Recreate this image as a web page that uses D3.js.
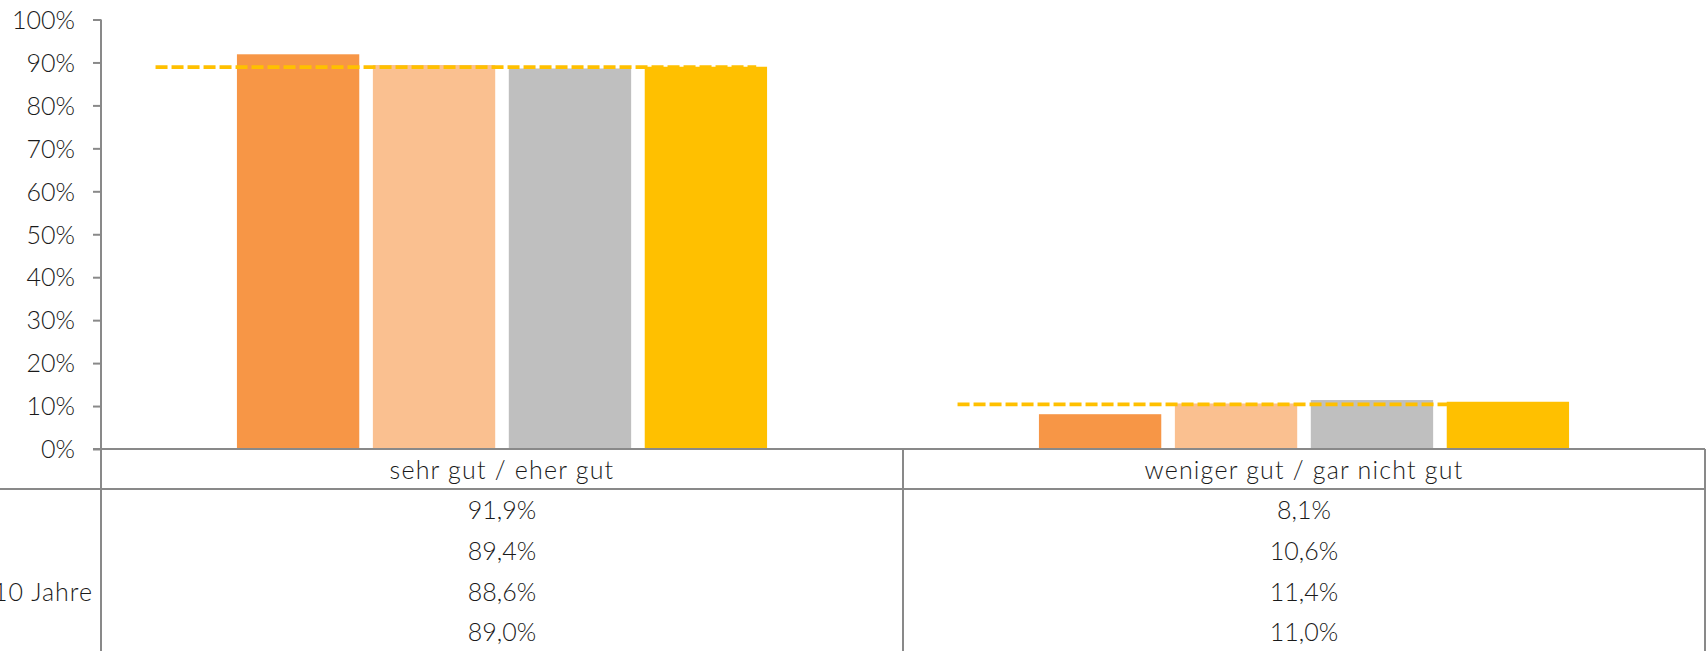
<!DOCTYPE html>
<html lang="de">
<head>
<meta charset="utf-8">
<title>Bewertung</title>
<script src="https://d3js.org/d3.v7.min.js"></script>
<style>
  body { margin: 0; background: #fff; overflow: hidden; }
  text { font-family: Lato, "Open Sans", sans-serif; font-weight: 300; fill: #1a1a1a; }
</style>
</head>
<body>
<div id="chart"></div>
<script>
// chart data
var categories = ["sehr gut / eher gut", "weniger gut / gar nicht gut"];
var seriesNames = ["S1", "S2", "S3", "S4"];
var rowLabels = ["", "", "Ø letzte 10 Jahre", ""];
var values = [
  [91.9, 8.1],
  [89.4, 10.6],
  [88.6, 11.4],
  [89.0, 11.0]
];
var refValues = [88.9, 10.4];   // dashed reference line per category
var yTicks = [0, 10, 20, 30, 40, 50, 60, 70, 80, 90, 100];
var colors = ["#f79646", "#fac090", "#bfbfbf", "#ffc000"];

var w = 1706, h = 651;
var plotLeft = 101, plotRight = 1705, plotTop = 19.5, base = 449;
var rowH = 40.8, headH = 40;
var fs = "25px";
var lineCol = "#898989";
var fmt = function(v) { return d3.format(".1f")(v).replace(".", ",") + "%"; };

var svg = d3.select("#chart").append("svg")
  .attr("width", w)
  .attr("height", h);

var y = d3.scaleLinear().domain([0, 100]).range([base, plotTop]);
var x0 = d3.scaleBand().domain(categories).range([plotLeft, plotRight]);
var x1 = d3.scaleBand().domain(seriesNames).range([0, x0.bandwidth()])
  .paddingInner(0.1).paddingOuter(1.0);

// bars
categories.forEach(function(c, ci) {
  svg.append("g")
    .selectAll("rect")
    .data(seriesNames)
    .enter().append("rect")
      .attr("x", function(s) { return x0(c) + x1(s); })
      .attr("y", function(s, si) { return y(values[si][ci]); })
      .attr("width", x1.bandwidth())
      .attr("height", function(s, si) { return base - y(values[si][ci]); })
      .attr("fill", function(s, si) { return colors[si]; });
});

// dashed reference lines
svg.selectAll(".ref")
  .data(categories)
  .enter().append("line")
    .attr("class", "ref")
    .attr("x1", function(c) { return x0(c) + x0.bandwidth() * 0.068; })
    .attr("x2", function(c) { return x0(c) + x0.bandwidth() * 0.817; })
    .attr("y1", function(c, i) { return y(refValues[i]); })
    .attr("y2", function(c, i) { return y(refValues[i]); })
    .attr("stroke", "#ffc000")
    .attr("stroke-width", 3.6)
    .attr("stroke-dasharray", "12,4");

// y axis
var yAxis = d3.axisLeft(y).tickValues(yTicks).tickSize(8)
  .tickFormat(function(d) { return d + "%"; });
var ga = svg.append("g")
  .attr("transform", "translate(" + plotLeft + ",0)")
  .call(yAxis);
ga.select(".domain").remove();
ga.selectAll(".tick line").attr("stroke", lineCol).attr("stroke-width", 2);
ga.selectAll(".tick text")
  .attr("x", -26)
  .attr("dy", "0.35em")
  .style("font-size", fs)
  .style("font-family", "Lato, sans-serif")
  .style("font-weight", 300)
  .attr("fill", "#1a1a1a");

// table grid
var tableTop = base + headH;
var g = svg.append("g").attr("stroke", lineCol).attr("stroke-width", 2);
g.append("line").attr("x1", plotLeft).attr("x2", plotLeft).attr("y1", plotTop).attr("y2", h);
g.append("line").attr("x1", plotLeft - 8).attr("x2", plotRight).attr("y1", base).attr("y2", base);
g.append("line").attr("x1", 0).attr("x2", plotRight).attr("y1", tableTop).attr("y2", tableTop);
categories.forEach(function(c) {
  var xr = x0(c) + x0.bandwidth();
  g.append("line").attr("x1", xr).attr("x2", xr).attr("y1", base).attr("y2", h);
});

// category header
svg.selectAll(".cat")
  .data(categories)
  .enter().append("text")
    .attr("class", "cat")
    .attr("x", function(c) { return x0(c) + x0.bandwidth() / 2; })
    .attr("y", base + 30)
    .attr("text-anchor", "middle")
    .style("font-size", fs)
    .style("letter-spacing", "1.2px")
    .text(function(c) { return c; });

// value rows
seriesNames.forEach(function(s, si) {
  var yy = tableTop + 30 + si * rowH;
  svg.append("text")
    .attr("x", plotLeft - 8)
    .attr("y", yy)
    .attr("text-anchor", "end")
    .style("font-size", fs)
    .style("letter-spacing", "1px")
    .text(rowLabels[si]);
  categories.forEach(function(c, ci) {
    svg.append("text")
      .attr("x", x0(c) + x0.bandwidth() / 2)
      .attr("y", yy)
      .attr("text-anchor", "middle")
      .style("font-size", fs)
      .text(fmt(values[si][ci]));
  });
});
</script>
</body>
</html>
